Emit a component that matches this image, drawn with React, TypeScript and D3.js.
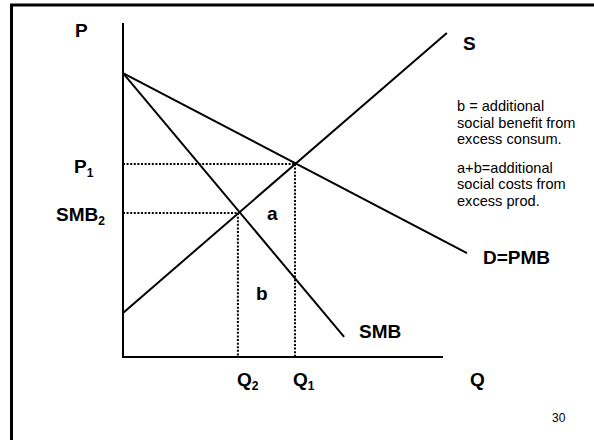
import React from "react";
import * as d3 from "d3";

// Curves (Q, P) in chart units
const demandPMB = [
  { q: 0, p: 8.5 },
  { q: 10.75, p: 3.11 },
];
const smbCurve = [
  { q: 0, p: 8.5 },
  { q: 6.91, p: 0.6 },
];
const supplyCurve = [
  { q: 0, p: 1.32 },
  { q: 10.12, p: 9.7 },
];
// Equilibria
const marketEq = { q: 5.375, p: 5.78 }; // Q1, P1
const socialEq = { q: 3.59, p: 4.31 }; // Q2, SMB2
const axisMax = { q: 10, p: 10 };

const noteLines1 = ["b = additional", "social benefit from", "excess consum."];
const noteLines2 = ["a+b=additional", "social costs from", "excess prod."];

const W = 594;
const H = 440;
const FONT = "'Liberation Sans', Arial, Helvetica, sans-serif";

export default function App() {
  const x = d3.scaleLinear().domain([0, axisMax.q]).range([123, 443]);
  const y = d3.scaleLinear().domain([0, axisMax.p]).range([357, 23]);
  const line = d3
    .line<{ q: number; p: number }>()
    .x((d) => x(d.q))
    .y((d) => y(d.p));

  const bold = { fontFamily: FONT, fontWeight: 700, fontSize: 19, fill: "#000" } as const;
  const sub = { fontSize: 12 } as const;

  return (
    <svg
      width={W}
      height={H}
      viewBox={`0 0 ${W} ${H}`}
      style={{ position: "absolute", left: 0, top: 0, background: "#fff" }}
    >
      <rect x={0} y={0} width={W} height={H} fill="#fff" />
      {/* slide frame */}
      <line x1={10} y1={5} x2={W} y2={5} stroke="#000" strokeWidth={3} />
      <line x1={11.5} y1={4} x2={11.5} y2={H} stroke="#000" strokeWidth={3} />

      {/* axes */}
      <line x1={x(0)} y1={y(axisMax.p)} x2={x(0)} y2={y(0)} stroke="#000" strokeWidth={2} />
      <line x1={x(0) - 1} y1={y(0)} x2={x(axisMax.q)} y2={y(0)} stroke="#000" strokeWidth={2} />

      {/* dotted guides */}
      <g stroke="#000" strokeWidth={2} strokeDasharray="2,1.6" fill="none">
        <line x1={x(0)} y1={y(marketEq.p)} x2={x(marketEq.q)} y2={y(marketEq.p)} />
        <line x1={x(marketEq.q)} y1={y(marketEq.p)} x2={x(marketEq.q)} y2={y(0)} />
        <line x1={x(0)} y1={y(socialEq.p)} x2={x(socialEq.q)} y2={y(socialEq.p)} />
        <line x1={x(socialEq.q)} y1={y(socialEq.p)} x2={x(socialEq.q)} y2={y(0)} />
      </g>

      {/* curves */}
      <g stroke="#000" strokeWidth={2} fill="none">
        <path d={line(demandPMB) ?? ""} />
        <path d={line(smbCurve) ?? ""} />
        <path d={line(supplyCurve) ?? ""} />
      </g>

      {/* labels */}
      <text x={75} y={37} {...bold}>P</text>
      <text x={463} y={50} {...bold}>S</text>
      <text x={483} y={264} {...bold}>D=PMB</text>
      <text x={359} y={338} {...bold}>SMB</text>
      <text x={470} y={386} {...bold}>Q</text>
      <text x={267} y={220} {...bold}>a</text>
      <text x={256} y={300} {...bold}>b</text>

      <text x={74} y={173} {...bold}>
        P<tspan dy={4} {...sub}>1</tspan>
      </text>
      <text x={56} y={221} {...bold}>
        SMB<tspan dy={4} {...sub}>2</tspan>
      </text>
      <text x={x(socialEq.q) - 1} y={386} {...bold}>
        Q<tspan dy={4} {...sub}>2</tspan>
      </text>
      <text x={x(marketEq.q) - 2} y={386} {...bold}>
        Q<tspan dy={4} {...sub}>1</tspan>
      </text>

      <g fontFamily={FONT} fontSize={14.6} fill="#000">
        {noteLines1.map((t, i) => (
          <text key={"a" + i} x={457} y={111 + i * 16.5}>{t}</text>
        ))}
        {noteLines2.map((t, i) => (
          <text key={"b" + i} x={457} y={172.5 + i * 16.5}>{t}</text>
        ))}
      </g>

      <text x={552} y={422} fontFamily={FONT} fontSize={12} fill="#000">30</text>
    </svg>
  );
}
